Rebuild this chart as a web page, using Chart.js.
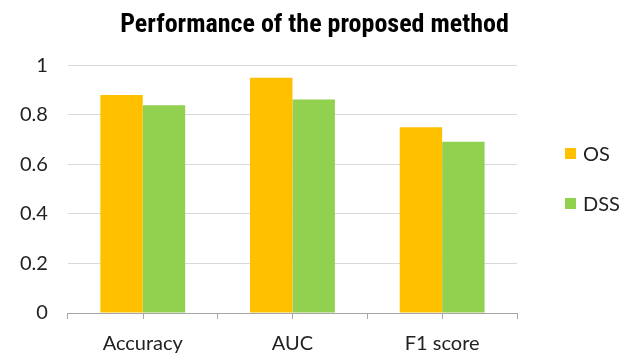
<!DOCTYPE html>
<html>
<head>
<meta charset="utf-8">
<script src="https://cdn.jsdelivr.net/npm/chart.js@4/dist/chart.umd.min.js"></script>
<style>
  html, body { margin: 0; padding: 0; background: #fff; }
  #wrap { width: 629px; height: 355px; position: relative; }
</style>
</head>
<body>
<div id="wrap"><canvas id="c" width="629" height="355"></canvas></div>
<script>
// Scores for each metric, by dataset
const categories = ['Accuracy', 'AUC', 'F1 score'];
const osValues = [0.88, 0.949, 0.75];
const dssValues = [0.838, 0.862, 0.691];
const yTicks = [0, 0.2, 0.4, 0.6, 0.8, 1];

const labelFont = "Lato, 'Open Sans', 'DejaVu Sans', sans-serif";
const axisGray = '#A6A6A6';

// Short marks under the axis at each category centre, like the boundary ticks
const centreTicks = {
  id: 'centreTicks',
  afterDraw(chart) {
    const x = chart.scales.x;
    const ctx = chart.ctx;
    ctx.save();
    ctx.strokeStyle = axisGray;
    ctx.lineWidth = 1;
    categories.forEach((_, i) => {
      const px = Math.round(x.getPixelForValue(i)) + 0.5;
      ctx.beginPath();
      ctx.moveTo(px, x.top);
      ctx.lineTo(px, x.top + 6);
      ctx.stroke();
    });
    ctx.restore();
  }
};

// Legend at the right: a square swatch and the series name per dataset
const sideLegend = {
  id: 'sideLegend',
  afterDraw(chart) {
    const ctx = chart.ctx;
    const area = chart.chartArea;
    const left = area.right + 48;
    const midY = (area.top + area.bottom) / 2;
    const gap = 50;
    const n = chart.data.datasets.length;
    ctx.save();
    ctx.font = "20px " + labelFont;
    ctx.textBaseline = 'middle';
    chart.data.datasets.forEach((ds, i) => {
      const cy = midY + (i - (n - 1) / 2) * gap - 11;
      ctx.fillStyle = ds.backgroundColor;
      ctx.fillRect(left, Math.round(cy - 5.5), 11, 11);
      ctx.fillStyle = '#222';
      ctx.fillText(ds.label, left + 18, cy + 1);
    });
    ctx.restore();
  }
};

new Chart(document.getElementById('c'), {
  type: 'bar',
  data: {
    labels: categories,
    datasets: [
      { label: 'OS', data: osValues, backgroundColor: '#FFC000', borderWidth: 0 },
      { label: 'DSS', data: dssValues, backgroundColor: '#92D050', borderWidth: 0 }
    ]
  },
  options: {
    responsive: false,
    animation: false,
    devicePixelRatio: 1,
    layout: { padding: 0 },
    datasets: { bar: { barPercentage: 1, categoryPercentage: 0.567 } },
    plugins: {
      title: {
        display: true,
        text: 'Performance of the proposed method',
        color: '#000',
        font: { family: "'Liberation Sans Narrow', 'Roboto Condensed', 'Liberation Sans', Arial, sans-serif", size: 26, weight: 'bold' },
        padding: { top: 10, bottom: 24 }
      },
      legend: { display: false },
      tooltip: { enabled: false }
    },
    scales: {
      x: {
        grid: { display: true, drawOnChartArea: false, drawTicks: true, tickLength: 6, color: axisGray, offset: true },
        border: { display: true, color: axisGray, width: 1 },
        ticks: { color: '#222', font: { family: labelFont, size: 20 }, padding: 13 },
        afterFit: (s) => { s.height = 42; }
      },
      y: {
        min: 0,
        max: 1,
        afterBuildTicks: (axis) => { axis.ticks = yTicks.map(v => ({ value: v })); },
        grid: { color: '#D9D9D9', drawTicks: false, lineWidth: 1 },
        border: { display: false },
        ticks: { color: '#222', font: { family: labelFont, size: 20 }, padding: 20, callback: v => String(v) }
      },
      // empty band on the right that holds the legend
      side: {
        type: 'linear',
        position: 'right',
        display: true,
        grid: { display: false, drawTicks: false },
        border: { display: false },
        ticks: { display: false },
        afterFit: (s) => { s.width = 112; }
      }
    }
  },
  plugins: [centreTicks, sideLegend]
});
</script>
</body>
</html>
